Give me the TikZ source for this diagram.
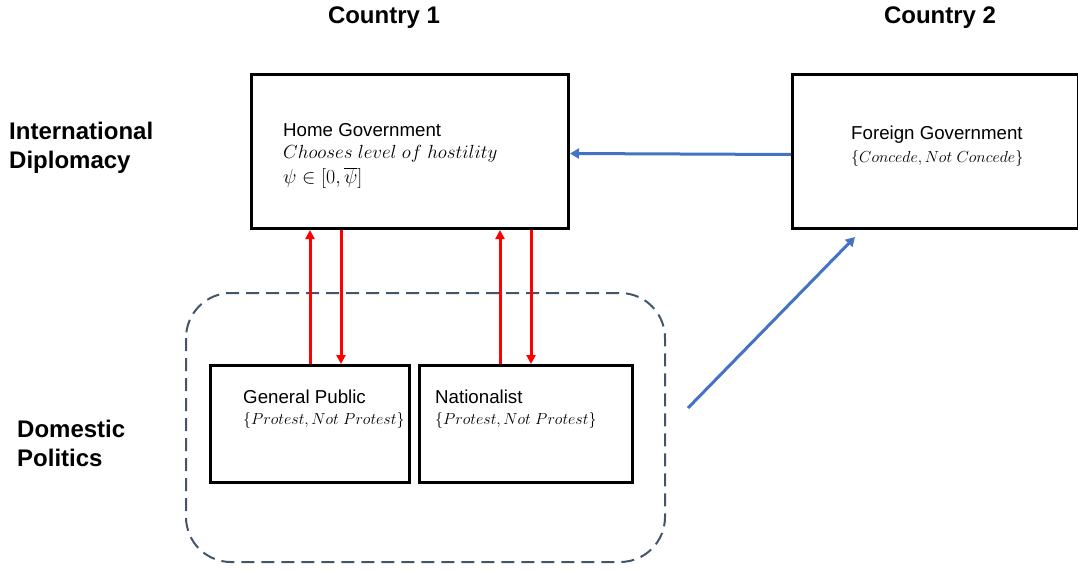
\RequirePackage{fix-cm}
\documentclass[tikz,border=0pt]{standalone}
\usepackage{fontspec}
\setmainfont{Liberation Sans}
\usetikzlibrary{arrows.meta}
\definecolor{arrblue}{RGB}{68,114,196}
\definecolor{arrred}{RGB}{255,0,0}
\definecolor{dashcol}{RGB}{68,84,106}
\tikzset{
  box/.style={draw=black, line width=3pt, inner sep=0pt, anchor=north west},
  heading/.style={font=\fontsize{24}{28}\selectfont\bfseries, inner sep=0pt},
  sidelabel/.style={font=\fontsize{24}{29}\selectfont\bfseries, inner sep=0pt, anchor=west, align=left},
  title/.style={font=\fontsize{18.7}{22}\selectfont, inner sep=0pt, anchor=west},
  mathline/.style={font=\fontsize{19}{23}\selectfont, inner sep=0pt, anchor=west},
  psiline/.style={font=\fontsize{20}{24}\selectfont, inner sep=0pt, anchor=west},
  smallmath/.style={font=\fontsize{16}{19}\selectfont, inner sep=0pt, anchor=west},
  redarrow/.style={draw=arrred, line width=3pt, -{Triangle[length=9pt,width=9pt]}},
  bluearrow/.style={draw=arrblue, line width=3pt, -{Triangle[length=9pt,width=10pt]}},
  group/.style={draw=dashcol, line width=2pt, dash pattern=on 13pt off 7pt, rounded corners=45pt}
}
\begin{document}
\begin{tikzpicture}[x=1pt,y=-1pt]
\useasboundingbox (0,0) rectangle (1078,570);

% headings
\node[heading] (c1) at (384,18) {Country 1};
\node[heading] (c2) at (940,18) {Country 2};
\node[sidelabel] (intl) at (9,148) {International\\Diplomacy};
\node[sidelabel] (dom) at (17,443) {Domestic\\Politics};

% dashed group
\draw[group] (186,293) rectangle (665,562);

% boxes
\node[box, minimum width=317pt, minimum height=154pt] (home) at (250,73) {};
\node[box, minimum width=286pt, minimum height=154pt] (foreign) at (791,73) {};
\node[box, minimum width=199pt, minimum height=117pt] (gp) at (209,364) {};
\node[box, minimum width=213pt, minimum height=117pt] (nat) at (418,364) {};

% texts
\node[title] (hgt) at (283,130) {Home Government};
\node[mathline] (hgc) at (283,154) {$Chooses\ level\ of\ hostility$};
\node[psiline] (hgp) at (283,178) {$\psi\in\bigl[0,\overline{\psi}\bigr]$};

\node[title] (fgt) at (851,135) {Foreign Government};
\node[smallmath] (fgs) at (851,158) {$\{Concede,Not\ Concede\}$};

\node[title] (gpt) at (243,397) {General Public};
\node[smallmath] (gps) at (243,420) {$\{Protest,Not\ Protest\}$};

\node[title] (natt) at (435,397) {Nationalist};
\node[smallmath] (nats) at (435,420) {$\{Protest,Not\ Protest\}$};

% red arrows
\draw[redarrow] ([xshift=101pt]gp.north west) -- ([xshift=101pt]gp.north west |- home.south);
\draw[redarrow] ([xshift=132pt]gp.north west |- home.south) -- ([xshift=132pt]gp.north west);
\draw[redarrow] ([xshift=82pt]nat.north west) -- ([xshift=82pt]nat.north west |- home.south);
\draw[redarrow] ([xshift=113pt]nat.north west |- home.south) -- ([xshift=113pt]nat.north west);

% blue arrows
\draw[bluearrow] ([yshift=-3pt]foreign.west) -- ([yshift=-2pt]home.east);
\coordinate (dstart) at (688,408);
\coordinate (dend) at (855,237);
\draw[bluearrow] (dstart) -- (dend);
\end{tikzpicture}
\end{document}
